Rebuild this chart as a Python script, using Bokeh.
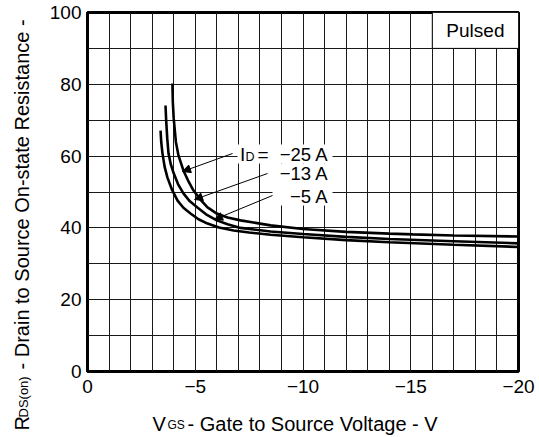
from math import pi
from bokeh.plotting import figure
from bokeh.models import (Range1d, FixedTicker, Label, Arrow, NormalHead)
from bokeh.core.properties import value
from bokeh.embed import file_html
from bokeh.resources import INLINE

# ---------------- data ----------------
vgs_25 = [-3.94, -3.96, -4.0, -4.1, -4.22, -4.45, -4.7, -4.92, -5.25, -5.57, -6.0, -6.5,
          -7.1, -7.7, -8.5, -10.0, -12.0, -14.0, -15.1, -17.0, -20.0]
rds_25 = [80.2, 75.0, 70.5, 64.0, 60.2, 56.0, 52.8, 50.4, 47.8, 45.7, 44.0, 42.9,
          42.1, 41.5, 40.7, 39.7, 38.9, 38.4, 38.2, 37.9, 37.6]

vgs_13 = [-3.62, -3.65, -3.7, -3.76, -3.87, -4.0, -4.2, -4.45, -4.75, -5.1, -5.5, -6.0,
          -6.5, -7.1, -8.5, -10.0, -12.0, -14.0, -17.0, -20.0]
rds_13 = [74.1, 70.0, 65.0, 60.7, 57.6, 55.2, 52.2, 49.6, 47.4, 45.7, 43.8, 42.1,
          41.0, 40.0, 39.0, 38.3, 37.5, 36.9, 36.3, 35.7]

vgs_5 = [-3.39, -3.42, -3.48, -3.58, -3.71, -3.93, -4.18, -4.45, -4.78, -5.15, -5.57, -6.1,
         -6.78, -7.5, -8.5, -10.0, -12.0, -14.0, -17.0, -20.0]
rds_5 = [67.1, 64.0, 60.7, 57.0, 54.0, 50.5, 47.6, 45.6, 44.0, 42.4, 41.2, 40.1,
         39.3, 38.7, 38.1, 37.4, 36.6, 36.0, 35.3, 34.7]

x_ticks = [0, -5, -10, -15, -20]
x_tick_labels = ["0", "\u22125", "\u221210", "\u221215", "\u221220"]
x_minor = [-i for i in range(1, 20)]
y_ticks = [0, 20, 40, 60, 80, 100]
y_tick_labels = ["0", "20", "40", "60", "80", "100"]
y_minor = [10, 30, 50, 70, 90]

current_labels = ["\u221225 A", "\u221213 A", "\u22125 A"]

FONT = "Liberation Sans"

# ---------------- layout (canvas px) ----------------
W, H = 539, 437
FL, FT, FW, FH = 87, 12, 431, 359

def dx(px):
    return -(px - FL) / FW * 20.0

def dy(py):
    return (FT + FH - py) / FH * 100.0

p = figure(width=W, height=H, output_backend="svg", toolbar_location=None,
           x_range=Range1d(0, -20), y_range=Range1d(0, 100),
           min_border_left=FL, min_border_right=W - FL - FW,
           min_border_top=FT, min_border_bottom=H - FT - FH)
p.background_fill_color = "white"
p.border_fill_color = "white"
p.outline_line_color = "black"
p.outline_line_width = 3

xt = FixedTicker(ticks=x_ticks, minor_ticks=x_minor)
yt = FixedTicker(ticks=y_ticks, minor_ticks=y_minor)
p.xaxis.ticker = xt
p.yaxis.ticker = yt
p.xgrid.ticker = xt
p.ygrid.ticker = yt
for g in (p.xgrid, p.ygrid):
    g.grid_line_color = "#1a1a1a"
    g.grid_line_width = 1
    g.minor_grid_line_color = "#1a1a1a"
    g.minor_grid_line_width = 1

p.xaxis.major_label_overrides = dict(zip(x_ticks, x_tick_labels))
p.yaxis.major_label_overrides = dict(zip(y_ticks, y_tick_labels))
for ax in (p.xaxis, p.yaxis):
    ax.axis_line_color = None
    ax.major_tick_line_color = None
    ax.minor_tick_line_color = None
    ax.major_tick_out = 0
    ax.major_tick_in = 0
    ax.minor_tick_out = 0
    ax.minor_tick_in = 0
    ax.major_label_text_font = FONT
    ax.major_label_text_font_size = "19px"
    ax.major_label_text_color = "black"
p.xaxis.major_label_standoff = 8
p.yaxis.major_label_standoff = 6

# white patches behind the annotation texts (hide the grid there)
p.quad(left=[dx(237), dx(272)], right=[dx(332), dx(332)],
       top=[dy(144), dy(163)], bottom=[dy(163), dy(205)],
       fill_color="white", line_color=None)

# curves
for xs, ys in ((vgs_25, rds_25), (vgs_13, rds_13), (vgs_5, rds_5)):
    p.line(xs, ys, line_color="black", line_width=2.6)

# "Pulsed" box
p.quad(left=[-16], right=[-20], bottom=[90], top=[100], fill_color="white",
       line_color="black", line_width=1)
p.add_layout(Label(x=-18, y=95, text="Pulsed", text_align="center",
                   text_baseline="middle", text_font=FONT,
                   text_font_size="19px", text_color="black"))

# arrows
arrows = [((232, 153), (182, 171)), ((267, 173), (194, 199)), ((272, 195), (214, 219))]
for (sx, sy), (ex, ey) in arrows:
    p.add_layout(Arrow(x_start=dx(sx), y_start=dy(sy), x_end=dx(ex), y_end=dy(ey),
                       line_color="black", line_width=1,
                       end=NormalHead(size=8, fill_color="black", line_color="black")))

def mk(x, y, text, size, align="left", baseline="middle"):
    return Label(x=x, y=y, text=text, text_align=align, text_baseline=baseline,
                 text_font=FONT, text_font_size=size, text_color="black")

# current annotations
p.add_layout(mk(dx(239.5), dy(153.5), "I", "19px"))
p.add_layout(mk(dx(245), dy(156.5), "D", "12.5px"))
p.add_layout(mk(dx(257), dy(154), "=", "19px"))
p.add_layout(mk(dx(328), dy(153.5), current_labels[0], "18.5px", align="right"))
p.add_layout(mk(dx(328), dy(172.5), current_labels[1], "18.5px", align="right"))
p.add_layout(mk(dx(328), dy(196), current_labels[2], "18.5px", align="right"))

# axis titles: text glyphs at the overlay level, placed outside the frame
def title_text(px, py, txt, size, angle=0.0):
    p.text(x=[dx(px)], y=[dy(py)], text=[txt], angle=angle,
           text_font=value(FONT), text_font_size=value(size), text_color="black",
           text_align="left", text_baseline="middle", level="overlay")

title_text(152, 423, "V", "20px")
title_text(167, 424.5, "GS", "12px")
title_text(187, 423, "- Gate to Source Voltage - V", "20px")

title_text(21.5, 430, "R", "20px", pi / 2)
title_text(23, 417, "DS(on)", "13px", pi / 2)
title_text(21.5, 369, "- Drain to Source On-state Resistance -", "20px", pi / 2)

open("out.html", "w").write(file_html(p, INLINE))
